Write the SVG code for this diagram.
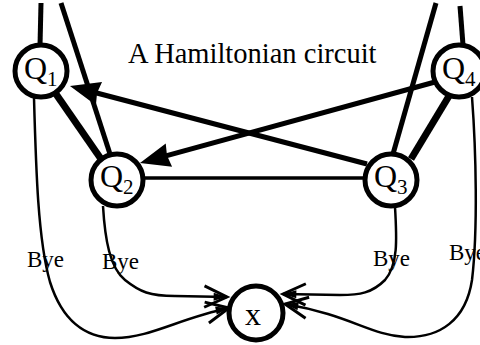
<svg xmlns="http://www.w3.org/2000/svg" width="480" height="345" viewBox="0 0 480 345">
<defs>
<style>
.node circle{fill:#fff;stroke:#000;stroke-width:5}
.q{font-family:"Liberation Serif","Times New Roman",serif;font-size:32px;fill:#000}
.sub{font-size:21px}
.lbl{font-family:"Liberation Serif","Times New Roman",serif;font-size:23px;fill:#000}
.thick{stroke:#000;stroke-width:7;fill:none}
.med{stroke:#000;stroke-width:5;fill:none}
.thin{stroke:#000;stroke-width:3.5;fill:none}
.bye{stroke:#000;stroke-width:2.5;fill:none;marker-end:url(#open)}
</style>
<marker id="solid" markerUnits="userSpaceOnUse" orient="auto" markerWidth="40" markerHeight="40" refX="0" refY="0" viewBox="-25 -15 40 30" overflow="visible">
<path d="M8,0 L-22,-12 L-20,0 L-22,12 Z" fill="#000"/>
</marker>
<marker id="open" markerUnits="userSpaceOnUse" orient="auto" markerWidth="40" markerHeight="40" refX="0" refY="0" viewBox="-20 -10 30 20" overflow="visible">
<path d="M-17,-8 L0,0 L-17,8" fill="none" stroke="#000" stroke-width="2.2"/>
<path d="M-10,-3 L0,0 L-10,3 Z" fill="#000"/>
</marker>
</defs>
<rect width="480" height="345" fill="#fff"/>
<text x="128" y="63" class="lbl" style="font-size:28.5px">A Hamiltonian circuit</text>
<g id="connectors">
<line x1="41" y1="3" x2="40" y2="46" class="med"/>
<line x1="61" y1="3" x2="110" y2="154" class="med"/>
<line x1="436" y1="3" x2="393" y2="154" class="med"/>
<line x1="460" y1="6" x2="463" y2="45" class="med"/>
<line x1="56" y1="94" x2="101" y2="159" class="thick"/>
<line x1="411" y1="159" x2="449" y2="96" class="thick"/>
<line x1="144" y1="178" x2="365" y2="178" class="thin"/>
<line x1="367" y1="164" x2="77.7" y2="88" class="med" marker-end="url(#solid)"/>
<line x1="435" y1="82" x2="147.7" y2="160.9" class="med" marker-end="url(#solid)"/>
<path d="M34,98 C36,170 38,240 50,282 C62,320 85,338 115,338 C150,338 180,318 229,308" class="bye"/>
<path d="M103,206 C105,240 110,268 125,280 C140,292 150,296 175,296 L227,297" class="bye"/>
<path d="M395,207 C397,240 398,265 385,280 C372,293 360,295 340,295 L283,294" class="bye"/>
<path d="M472,97 C476,150 478,230 472,280 C466,320 440,338 405,337 C370,335 350,315 285,304" class="bye"/>
</g>
<g id="Q1" class="node"><circle cx="41" cy="71" r="26"/><text x="24" y="79" class="q">Q<tspan class="sub" dy="7">1</tspan></text></g>
<g id="Q2" class="node"><circle cx="117" cy="180" r="26"/><text x="100" y="187" class="q">Q<tspan class="sub" dy="7">2</tspan></text></g>
<g id="Q3" class="node"><circle cx="391" cy="180" r="26"/><text x="374" y="187" class="q">Q<tspan class="sub" dy="7">3</tspan></text></g>
<g id="Q4" class="node"><circle cx="459" cy="71" r="26"/><text x="442" y="79" class="q">Q<tspan class="sub" dy="7">4</tspan></text></g>
<g id="X" class="node"><circle cx="256" cy="313" r="27"/><text x="253" y="325" class="q" text-anchor="middle">x</text></g>
<g id="labels">
<text x="27" y="267" class="lbl">Bye</text>
<text x="102" y="269" class="lbl">Bye</text>
<text x="373" y="266" class="lbl">Bye</text>
<text x="449" y="260" class="lbl">Bye</text>
</g>
</svg>
